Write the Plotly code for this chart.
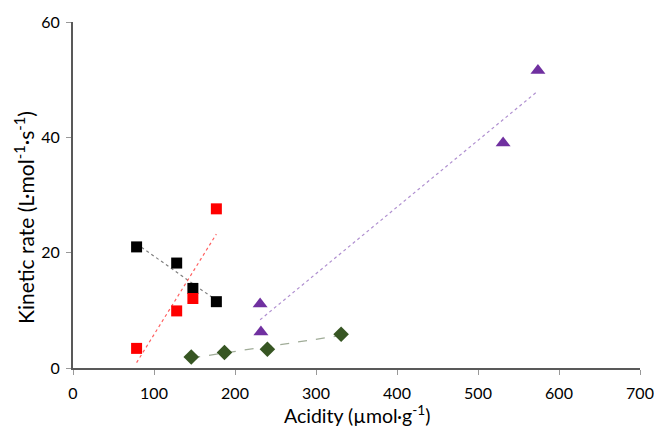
import numpy as np
import plotly.graph_objects as go

# Data
black_x = [78.5, 128, 148, 177]
black_y = [21.0, 18.2, 13.8, 11.5]
red_x = [78.5, 128, 148, 177]
red_y = [3.4, 9.9, 12.05, 27.6]
green_x = [146, 187, 240, 331]
green_y = [1.9, 2.7, 3.25, 5.85]
purple_x = [231, 232, 531, 574]
purple_y = [11.1, 6.25, 39.0, 51.6]

x_ticks = [0, 100, 200, 300, 400, 500, 600, 700]
y_ticks = [0, 20, 40, 60]
x_title = "Acidity (µmol·g<sup>-1</sup>)"
y_title = "Kinetic rate (L·mol<sup>-1</sup>·s<sup>-1</sup>)"

series = [
    (black_x, black_y, "square", "#000000", 11, "#808080", "dot"),
    (red_x, red_y, "square", "#FF0000", 11, "#FF6060", "dot"),
    (green_x, green_y, "diamond", "#375623", 12, "#A0AC98", "dash"),
    (purple_x, purple_y, "triangle-up", "#7030A0", 13, "#B090D0", "dot"),
]

fig = go.Figure()
for xs, ys, sym, col, sz, lcol, dash in series:
    k, b = np.polyfit(xs, ys, 1)
    xr = np.array([min(xs), max(xs)])
    fig.add_trace(go.Scatter(x=xr, y=k * xr + b, mode="lines",
                             line=dict(color=lcol, width=1.2, dash=dash),
                             hoverinfo="skip", showlegend=False))
for xs, ys, sym, col, sz, lcol, dash in series:
    fig.add_trace(go.Scatter(x=xs, y=ys, mode="markers",
                             marker=dict(symbol=sym, color=col, size=sz,
                                         line=dict(width=0)),
                             showlegend=False))

font = "Lato, Carlito, 'Noto Sans', sans-serif"
fig.update_layout(
    width=654, height=429,
    margin=dict(l=73, r=14, t=22, b=61),
    paper_bgcolor="white", plot_bgcolor="white",
    font=dict(family=font, size=16, color="#000000"),
    showlegend=False,
    annotations=[
        dict(text=x_title, xref="paper", yref="paper", x=0.5, y=-0.133,
             xanchor="center", yanchor="middle", showarrow=False,
             font=dict(size=19.5)),
        dict(text=y_title, xref="paper", yref="paper", x=-0.0864, y=0.4335,
             xanchor="center", yanchor="middle", showarrow=False, textangle=-90,
             font=dict(size=21)),
    ],
)
fig.update_xaxes(range=[0, 700], tickvals=x_ticks, showgrid=False, zeroline=False,
                 showline=True, linecolor="#595959", linewidth=2, automargin=False,
                 ticks="outside", ticklen=5, tickcolor="#999999", tickwidth=1,
                 tickfont=dict(size=16), ticklabelstandoff=5)
fig.update_yaxes(range=[0, 60], tickvals=y_ticks, showgrid=False, zeroline=False,
                 showline=True, linecolor="#595959", linewidth=2, automargin=False,
                 ticks="outside", ticklen=5, tickcolor="#999999", tickwidth=1,
                 tickfont=dict(size=16), ticklabelstandoff=3)

fig.write_html("out.html")
